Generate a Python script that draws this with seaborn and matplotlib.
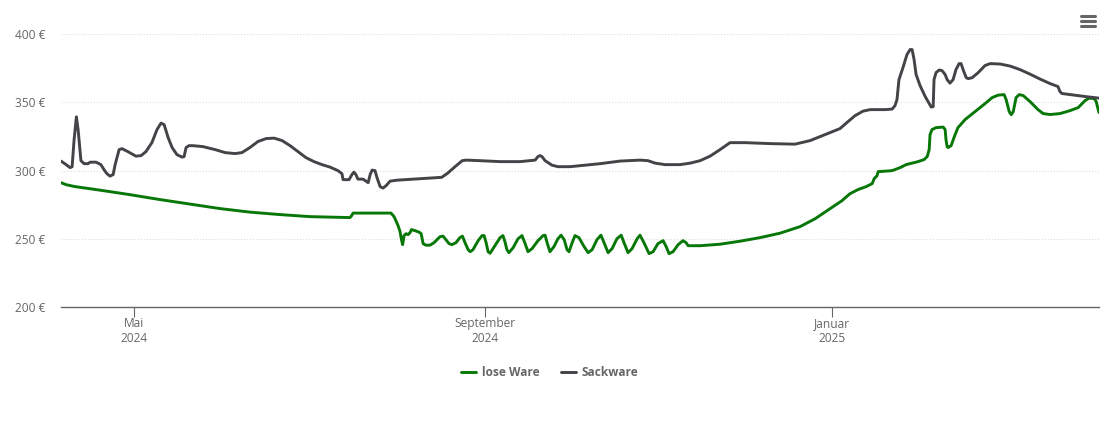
import pandas as pd
import matplotlib.pyplot as plt
import seaborn as sns

# Prices, as pairs of (days since the start of the chart, euro)
lose_ware = [
    (0, 291.1), (1.8, 289.6), (4.9, 288.2), (13.7, 285.6), (24.2, 282.3), (34.7, 278.7), (45.3, 275.4),
    (55.8, 272.1), (66.3, 269.5), (76.9, 267.7), (87.4, 266.2), (101.4, 265.5), (102, 266.9), (102.5, 268.8),
    (115.8, 268.8), (116.9, 266.2), (118.3, 259.6), (119, 255.2), (119.5, 249.3), (119.9, 245.7), (120.4, 252.3),
    (121.1, 253.7), (121.8, 253), (122.5, 254.5), (123, 256.7), (124.3, 255.9), (125.7, 254.8), (126.4, 253.7),
    (127.1, 246.4), (128.1, 245.3), (129.5, 245.3), (130.9, 247.1), (133, 251.5), (134.1, 251.9), (135.1, 249.3),
    (136.2, 246.4), (137.2, 245.7), (138.6, 247.1), (140, 250.8), (140.9, 251.9), (141.8, 247.1), (142.9, 242),
    (143.6, 240.5), (144.6, 242), (146.4, 248.6), (147.8, 252.3), (148.5, 252.3), (149.2, 247.1), (149.9, 240.5),
    (150.6, 239.4), (152.3, 244.9), (154.1, 250.8), (155.1, 252.3), (155.8, 247.9), (156.5, 242), (157.2, 239.8),
    (158.7, 243.5), (160.4, 250), (161.8, 252.3), (162.9, 246.4), (163.9, 240.5), (165.3, 242.7), (167.4, 248.6),
    (169.2, 252.3), (169.9, 252.6), (170.6, 247.1), (171.6, 240.5), (173, 244.2), (174.4, 250), (175.5, 252.6),
    (176.6, 249.3), (177.6, 242), (178.3, 240.5), (179.4, 247.1), (180.4, 252.3), (181.8, 250.8), (183.6, 244.2),
    (185, 239.8), (186.4, 242), (188.1, 249.3), (189.5, 252.6), (190.6, 247.1), (192, 239.8), (193.4, 242.7),
    (195.1, 250), (196.6, 252.6), (197.6, 247.1), (199, 239.8), (200.4, 242.7), (202.2, 250), (203.2, 252.6),
    (204.6, 247.1), (206.4, 239.1), (207.8, 240.5), (209.5, 246.4), (211.3, 248.6), (212.4, 244.2), (213.4, 239.1),
    (214.8, 240.5), (216.6, 245.7), (218.3, 248.6), (219.4, 247.1), (220.1, 244.9), (224.3, 244.9), (231.3, 246),
    (238.3, 248.2), (245.3, 250.8), (252.4, 254.1), (259.4, 258.9), (264.7, 264.7), (269.9, 272), (274.1, 277.9),
    (276.9, 283), (279.7, 286), (282.6, 288.2), (284.7, 290.4), (285.4, 294), (286.4, 296.2), (286.8, 299.2),
    (289.2, 299.5), (291.7, 299.9), (294.5, 302.1), (296.6, 304.3), (298.7, 305.4), (300.8, 306.5), (302.9, 308),
    (304, 310.2), (304.7, 315.3), (305, 326.3), (305.7, 330), (307.1, 331.4), (309.6, 331.8), (310.3, 330),
    (310.6, 322.6), (311, 317.5), (311.3, 316.8), (312.4, 318.2), (313.8, 326.3), (314.8, 331.4), (317.3, 337.3),
    (320.8, 343.1), (324.3, 349), (326.8, 353.4), (328.9, 355.2), (331, 355.6), (331.7, 352), (332.8, 343.1),
    (333.5, 340.9), (334.2, 343.1), (335.2, 353.4), (336.3, 355.6), (337.7, 354.9), (340.1, 350.5), (342.9, 344.6),
    (344.7, 341.7), (347.1, 341), (350.6, 341.7), (354.2, 343.9), (357, 346.1), (359.4, 351.2), (360.8, 353),
    (362.6, 352.7), (363.3, 350.5), (364.3, 342.4),
]
sackware = [
    (0, 306.9), (1.8, 304.3), (3.2, 302.1), (3.9, 302.8), (4.6, 322.6), (5.4, 339.3), (6, 330), (7, 307.2),
    (8.1, 305), (9.5, 305), (10.2, 306.1), (12.3, 306.1), (14, 304.3), (15.1, 300.6), (16.1, 297.7), (17.2, 295.9),
    (18.3, 297), (19, 304.3), (20.4, 315.3), (21.4, 316), (23.5, 313.8), (26.3, 310.5), (28.1, 310.9), (29.8, 313.8),
    (31.9, 320.4), (33.7, 330), (35.1, 334.7), (36.2, 333.6), (37.6, 324.1), (39, 316.8), (40.7, 311.6),
    (42.5, 309.8), (43.2, 310.2), (43.9, 316.8), (44.9, 318.2), (46.3, 318.2), (49.8, 317.5), (54.1, 315.3),
    (57.6, 313.1), (61.1, 312.4), (63.5, 313.1), (66.3, 316.8), (69.1, 321.2), (72, 323.4), (74.8, 323.7),
    (77.6, 321.9), (80.4, 318.2), (83.2, 313.8), (86, 309.4), (88.8, 306.5), (91.6, 304.3), (94.4, 302.5),
    (97.2, 299.9), (98.6, 297.7), (99, 293.3), (101.1, 293.3), (102.1, 297), (102.8, 298.8), (103.5, 297),
    (104.2, 293.7), (106, 293.7), (107.8, 291.1), (108.5, 297), (109.2, 300.3), (110.2, 299.9), (110.9, 294.8),
    (112, 288.2), (113, 287.1), (114.1, 288.9), (115.5, 292.2), (117.9, 292.9), (133.6, 295), (135.5, 297.7),
    (138.3, 302.8), (140.8, 307.2), (142.2, 307.6), (147.1, 307.2), (154.1, 306.5), (161.1, 306.5), (166.4, 307.6),
    (167.4, 310.2), (168.1, 310.9), (168.8, 310.2), (169.9, 307.2), (172.3, 303.9), (174.4, 302.8), (178.7, 302.8),
    (183.9, 303.9), (189.2, 305), (196.2, 306.9), (203.2, 307.6), (206, 307.2), (208.5, 305.4), (212, 304.3),
    (217.3, 304.3), (220.8, 305.4), (224.3, 307.2), (227.8, 310.5), (231.3, 315.3), (234.8, 320.4), (240.1, 320.4),
    (248.9, 319.7), (257.6, 319.3), (262.9, 321.9), (268.2, 326.3), (273.4, 330.7), (276.2, 335.8), (278.7, 340.2),
    (281.5, 343.5), (284, 344.6), (289.2, 344.6), (291.7, 345), (292.7, 347.5), (293.4, 352), (294.1, 366.6),
    (295.5, 375.4), (296.9, 384.9), (298, 388.6), (298.7, 388.6), (299.4, 381.3), (300.1, 370.3), (301.5, 362.2),
    (303.3, 354.2), (304.7, 349.1), (305.4, 346.5), (306.1, 346.8), (306.4, 366.6), (307.1, 371.7), (308.2, 373.6),
    (309.2, 373.2), (310.3, 370.3), (311, 366.6), (312, 364), (313.1, 366.6), (314.1, 373.9), (315.2, 378.3),
    (315.9, 378.3), (316.6, 373.9), (317.7, 368), (318.4, 367.3), (319.8, 368), (321.9, 371.7), (324.3, 376.9),
    (326.1, 378.3), (329.6, 378), (333.1, 376.5), (336.6, 373.9), (340.1, 370.6), (343.6, 367), (347.1, 363.7),
    (349.9, 361.5), (350.6, 357.8), (351.3, 356.4), (354.2, 355.6), (359.4, 354.2), (364.3, 353),
]

df = pd.concat([
    pd.DataFrame(lose_ware, columns=["Tag", "Preis"]).assign(Sorte="lose Ware"),
    pd.DataFrame(sackware, columns=["Tag", "Preis"]).assign(Sorte="Sackware"),
])
start = pd.Timestamp("2024-04-05 08:00")
df["Datum"] = start + pd.to_timedelta(df["Tag"], unit="D")

# Set plot style
sns.set(style="whitegrid")
plt.rcParams["font.family"] = "Open Sans"

plt.figure(figsize=(11.1, 4.22), dpi=100)
ax = plt.axes([61 / 1110, 1 - 307 / 422, 1038 / 1110, 273 / 422])
sns.lineplot(data=df, x="Datum", y="Preis", hue="Sorte", palette=["#077707", "#434348"],
             estimator=None, sort=False, linewidth=2.1)

plt.xlim(start, start + pd.Timedelta(days=364.3))
plt.ylim(200, 400)
plt.xlabel("")
plt.ylabel("")
plt.xticks(pd.to_datetime(["2024-05-01", "2024-09-01", "2025-01-01"]),
           ["Mai\n2024", "September\n2024", "Januar\n2025"])
plt.yticks([200, 250, 300, 350, 400], ["200 €", "250 €", "300 €", "350 €", "400 €"])
plt.tick_params(axis="x", bottom=True, length=7, width=0.8, color="#666666", labelcolor="#666666", labelsize=8.6, pad=0.5)
plt.tick_params(axis="y", length=0, labelcolor="#666666", labelsize=8.6, pad=11)
plt.grid(axis="x", visible=False)
plt.grid(axis="y", color="#dddddd", linewidth=0.8, linestyle=":")
sns.despine(left=True)
ax.spines["bottom"].set_color("#666666")
ax.spines["bottom"].set_linewidth(1)
ax.set_axisbelow(True)

# Legend under the axis
leg = plt.legend(loc="center", bbox_to_anchor=(550 / 1110, 1 - 373 / 422), bbox_transform=plt.gcf().transFigure,
                 ncol=2, frameon=False, fontsize=8.6, handlelength=1.25, handletextpad=0.5, columnspacing=1.75)
for t in leg.get_texts():
    t.set_color("#666666")
    t.set_fontweight("bold")

# Menu icon, top right
for y in [16, 21, 26]:
    plt.gcf().add_artist(plt.Line2D([1081 / 1110, 1095 / 1110], [1 - y / 422, 1 - y / 422], color="#666666",
                                    linewidth=2.2, solid_capstyle="round"))

plt.savefig("out.png", dpi=100)
